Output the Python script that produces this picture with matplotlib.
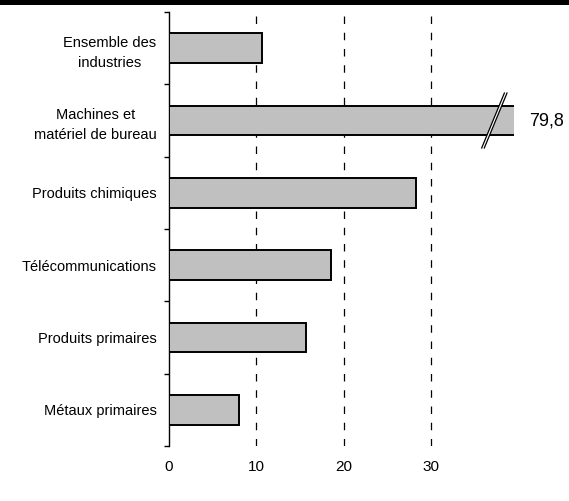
import matplotlib
matplotlib.use("Agg")
import matplotlib.pyplot as plt
from matplotlib.patches import Rectangle, Polygon

plt.rcParams['font.family'] = ['Liberation Sans', 'DejaVu Sans']

# categories, top to bottom
categories = ["Ensemble des\nindustries", "Machines et\nmatériel de bureau",
              "Produits chimiques", "Télécommunications",
              "Produits primaires", "Métaux primaires"]
values = [10.6, 79.8, 28.3, 18.5, 15.7, 8.0]
x_ticks = [0, 10, 20, 30]
x_max = 39.5  # axis is cut here, longer bars get a break mark

fig = plt.figure(figsize=(5.69, 5.01), dpi=100)
ax = fig.add_axes([169/569, 1 - 446/501, 345/569, 434/501])

pos = list(range(len(categories)))
ax.barh(pos, values, height=0.41, color="#c0c0c0", edgecolor="black",
        linewidth=1.4, zorder=3)

for x in x_ticks[1:]:
    ax.axvline(x, color="black", lw=0.9, linestyle=(0, (6, 7)), zorder=1)

ax.set_xlim(0, x_max)
ax.set_ylim(len(categories) - 0.5, -0.5)

# value label and break mark for bars beyond the axis
for i, v in enumerate(values):
    if v > x_max:
        ax.text(x_max + 1.7, i, f"{v:.1f}".replace(".", ","), fontsize=13,
                va="center", ha="left", clip_on=False)
        xb, dx = 37.1, 1.3
        h = 0.38
        gap = 0.3
        poly = Polygon([(xb - dx, i + h), (xb + dx, i - h),
                        (xb + dx + gap, i - h), (xb - dx + gap, i + h)],
                       closed=True, facecolor="white", edgecolor="none",
                       zorder=4, clip_on=False)
        ax.add_patch(poly)
        for off in (0, gap):
            ax.plot([xb - dx + off, xb + dx + off], [i + h, i - h],
                    color="black", lw=0.9, zorder=5, clip_on=False)

ax.set_yticks([p + 0.5 for p in [-1] + pos])
ax.set_yticklabels([])
ax.set_yticks(pos, minor=True)
ax.set_yticklabels(categories, minor=True, fontsize=10.5, linespacing=1.55)
ax.tick_params(axis="y", which="major", length=3.5, width=1, direction="out")
ax.tick_params(axis="y", which="minor", length=0, pad=9)
ax.set_xticks(x_ticks)
ax.set_xticklabels([str(t) for t in x_ticks], fontsize=11)
ax.tick_params(axis="x", length=0, pad=10)

for s in ["top", "right", "bottom"]:
    ax.spines[s].set_visible(False)
ax.spines["left"].set_linewidth(1)

for lbl in ax.get_yticklabels(minor=True):
    lbl.set_multialignment("center")

# thick rule at the very top of the page
fig.add_artist(Rectangle((0, 1 - 5/501), 1, 5/501, transform=fig.transFigure,
                         facecolor="black", edgecolor="none"))

fig.savefig("out.png", dpi=100)
